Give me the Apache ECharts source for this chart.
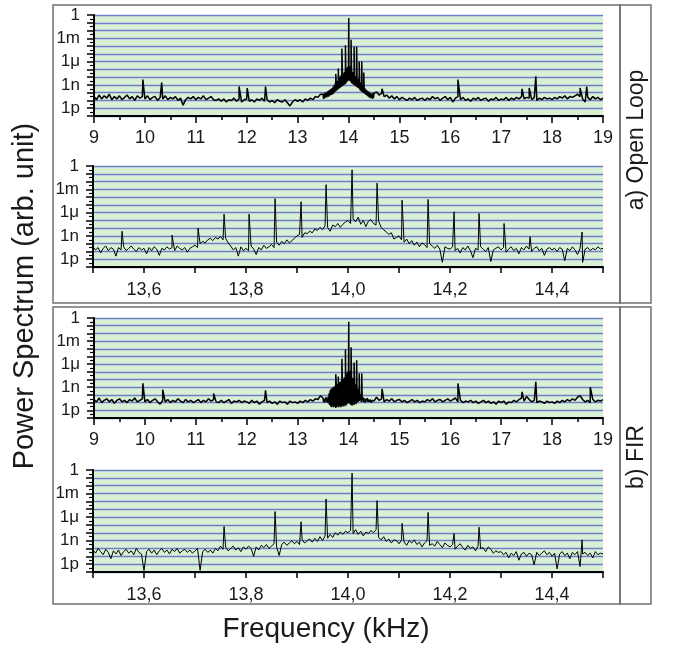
<!DOCTYPE html>
<html>
<head>
<meta charset="utf-8">
<script src="https://cdn.jsdelivr.net/npm/echarts@6/dist/echarts.min.js"></script>
<style>
  html, body { margin: 0; padding: 0; background: #fff; }
  #main { width: 673px; height: 646px; }
</style>
</head>
<body>
<div id="main"></div>
<script>
// power spectra, values are log10 of power (decades)

// a) open loop, wide span 9..19 kHz (step 0.05 outside the core, 0.01 in the core)
var openWideLow = [ // 9.00 .. 13.45
    -10.5, -10.9, -10.3, -10.8, -10.4, -10.7, -10.2, -10.9, -10.5, -10.8,
    -10.4, -10.9, -10.6, -10.3, -10.8, -10.5, -11.0, -10.4, -10.7, -10.5,
    -10.8, -10.4, -10.9, -10.6, -10.5, -11.0, -10.6, -10.8, -10.4, -10.9,
    -10.6, -10.8, -10.5, -11.0, -10.7, -11.6, -10.9, -10.6, -10.8, -10.5,
    -10.9, -10.6, -10.8, -10.4, -10.9, -10.7, -10.5, -10.9, -11.0, -10.8,
    -11.1, -10.8, -11.2, -10.9, -11.0, -10.7, -11.1, -10.8, -11.2, -10.9,
    -10.8, -11.1, -10.9, -11.2, -10.8, -11.0, -10.7, -11.1, -10.9, -11.2,
    -11.0, -11.3, -10.9, -11.1, -11.2, -10.9, -11.3, -11.7, -11.2, -10.9,
    -11.1, -10.9, -11.2, -10.8, -11.0, -10.7, -10.9, -10.5, -10.6, -10.2
];
var openCore = [ // 13.50 .. 14.50
    -10.2, -10.8, -10.1, -10.7, -10.0, -10.6, -10.0, -10.6, -9.9, -10.5,
    -9.8, -10.5, -9.7, -10.4, -9.6, -10.3, -9.5, -10.3, -9.4, -10.2,
    -9.2, -10.1, -9.0, -9.9, -8.8, -9.8, -8.7, -9.7, -8.5, -9.6,
    -8.3, -9.5, -8.1, -9.4, -7.9, -9.3, -7.7, -9.2, -7.6, -9.1,
    -7.5, -9.0, -7.3, -8.9, -7.1, -8.8, -6.9, -8.6, -6.7, -8.5,
    -6.4, -8.4, -6.6, -8.5, -6.9, -8.7, -7.1, -8.8, -7.3, -8.9,
    -7.5, -9.0, -7.7, -9.1, -7.9, -9.2, -8.0, -9.3, -8.2, -9.4,
    -8.3, -9.5, -8.5, -9.7, -8.7, -9.8, -8.9, -9.9, -9.1, -10.0,
    -9.3, -10.1, -9.4, -10.2, -9.6, -10.3, -9.7, -10.4, -9.8, -10.5,
    -9.9, -10.6, -10.0, -10.7, -10.1, -10.6, -10.2, -10.8, -10.0, -10.7,
    -10.1
];
var openWideHigh = [ // 14.55 .. 19.00
    -9.9, -10.3, -10.1, -10.5, -10.3, -10.7, -10.4, -10.8, -10.5,
    -10.9, -10.6, -10.8, -11.0, -10.7, -10.9, -10.6, -11.0, -10.8, -10.7,
    -11.0, -10.7, -10.9, -10.5, -10.8, -10.6, -11.0, -10.7, -10.5, -10.9,
    -10.6, -11.2, -10.7, -10.5, -10.9, -10.6, -11.0, -10.8, -11.1, -10.7,
    -10.9, -10.6, -11.0, -10.8, -10.7, -11.1, -10.8, -10.9, -10.6, -11.0,
    -10.8, -10.9, -10.6, -11.0, -10.7, -10.9, -10.6, -10.8, -10.5, -10.8,
    -10.6, -10.7, -10.9, -10.6, -11.0, -10.7, -10.9, -10.6, -10.8, -10.7,
    -10.9, -10.6, -10.8, -10.5, -10.7, -10.4, -10.8, -10.5, -10.6, -10.4,
    -10.2, -10.5, -10.8, -11.2, -10.6, -10.9, -10.5, -10.8, -10.6, -10.9, -10.7
];
var openWidePeaks = [
    [9.96, -8.3], [10.33, -8.7], [11.85, -9.2], [12.01, -9.4], [12.37, -9.2],
    [13.75, -7.6], [13.80, -6.9], [13.87, -4.3], [13.94, -3.9], [14.005, -0.4],
    [14.05, -3.2], [14.11, -4.1], [14.16, -4.1], [14.21, -6.0], [14.26, -6.0],
    [14.30, -7.4], [14.66, -9.5], [16.15, -8.3], [17.41, -9.5], [17.55, -9.4],
    [17.68, -7.9], [18.55, -9.4], [18.68, -9.2]
];

// a) open loop, zoom 13.5..14.5 kHz, step 0.005
var openZoom = [
    -10.4, -10.8, -10.5, -11.2, -10.6, -10.3, -10.9, -10.5, -10.7, -11.6, -10.5, -10.8, -10.4, -10.9, -10.6, -10.3, -10.7, -11.0, -10.5, -10.8,
    -10.6, -11.3, -10.5, -10.9, -10.4, -10.7, -11.5, -10.6, -10.8, -10.4, -10.7, -10.5, -10.9, -10.3, -10.6, -10.8, -10.5, -11.1, -10.6, -10.4,
    -10.2, -10.5, -10.0, -9.7, -9.9, -9.5, -9.3, -9.6, -9.2, -9.4, -9.1, -9.5, -9.3, -9.9, -10.3, -10.8, -10.5, -11.6, -10.4, -10.9,
    -10.6, -10.9, -10.3, -10.7, -11.4, -10.5, -10.8, -10.2, -10.6, -10.4, -10.1, -10.5, -9.8, -10.2, -9.7, -10.0, -9.5, -9.9, -9.6, -9.3,
    -9.0, -8.8, -9.2, -8.6, -8.7, -8.4, -8.6, -8.1, -8.3, -7.9, -8.2, -7.7, -7.9, -8.4, -7.6, -7.8, -7.4, -7.9, -7.5, -7.2,
    -7.0, -7.4, -6.8, -7.2, -6.6, -7.5, -7.0, -7.8, -7.1, -6.9, -7.4, -7.6, -7.1, -7.9, -8.2, -8.5, -8.8, -8.6, -9.4, -9.2,
    -9.0, -9.5, -9.8, -9.4, -10.0, -9.6, -10.2, -9.8, -10.4, -9.9, -10.1, -10.5, -10.0, -10.3, -10.6, -10.2, -10.7, -12.4, -10.4, -10.6,
    -10.7, -10.4, -10.9, -10.6, -11.2, -10.5, -10.8, -10.3, -10.9, -11.8, -10.6, -10.8, -10.4, -10.7, -11.0, -10.5, -12.3, -10.8, -10.6, -10.4,
    -10.8, -10.5, -11.1, -10.7, -10.4, -10.9, -10.6, -11.3, -10.5, -10.8, -10.3, -10.7, -11.0, -10.6, -10.4, -10.9, -10.6, -11.5, -10.7, -10.5,
    -10.8, -10.6, -11.0, -10.5, -10.7, -12.2, -10.6, -10.9, -10.4, -10.8, -11.4, -10.6, -12.4, -10.7, -10.5, -10.9, -10.6, -10.8, -10.4, -10.7,
    -10.6
];
var openZoomPeaks = [
    [13.557, -8.4], [13.655, -8.9], [13.706, -8.0], [13.757, -6.2], [13.806, -6.2],
    [13.857, -4.2], [13.908, -4.6], [13.957, -2.4], [14.008, -0.5], [14.057, -2.2],
    [14.106, -4.4], [14.157, -4.3], [14.208, -5.9], [14.257, -6.1], [14.306, -7.4],
    [14.357, -9.1], [14.459, -8.5]
];

// b) FIR, wide span
var firWideLow = [ // 9.00 .. 13.45
    -10.6, -10.9, -10.4, -11.0, -10.7, -10.5, -10.9, -10.6, -11.1, -10.7,
    -10.5, -10.9, -10.7, -11.0, -10.6, -10.8, -10.4, -10.9, -10.7, -10.5,
    -10.9, -10.6, -11.0, -10.7, -10.5, -10.9, -11.2, -10.7, -10.9, -10.6,
    -11.0, -10.7, -10.9, -10.5, -10.8, -11.0, -10.6, -10.9, -10.7, -11.0,
    -10.8, -10.6, -11.0, -10.7, -10.9, -10.5, -10.8, -10.6, -10.9, -11.0,
    -10.7, -11.0, -10.8, -10.6, -11.1, -10.8, -10.9, -10.7, -11.0, -10.8,
    -10.9, -11.1, -10.7, -11.0, -10.8, -11.2, -10.9, -10.7, -11.0, -10.8,
    -11.1, -10.9, -11.2, -10.8, -11.0, -10.9, -11.2, -10.8, -11.0, -10.9,
    -11.1, -10.8, -11.0, -10.7, -10.9, -10.6, -10.8, -10.5, -10.6, -10.1
];
var firCore = [ // 13.50 .. 14.50
    -10.4, -10.9, -10.5, -11.0, -10.6, -10.8, -10.3, -10.9, -10.5, -11.0,
    -10.2, -11.1, -9.8, -11.3, -9.4, -11.5, -9.2, -11.6, -9.1, -11.5,
    -9.0, -11.6, -8.9, -11.5, -8.8, -11.7, -8.7, -11.6, -8.6, -11.5,
    -8.5, -11.6, -8.4, -11.4, -8.3, -11.6, -8.2, -11.5, -8.0, -11.4,
    -7.9, -11.5, -7.7, -11.3, -7.5, -11.4, -7.3, -11.2, -7.0, -11.1,
    -6.7, -11.0, -6.9, -11.2, -7.2, -11.3, -7.5, -11.4, -7.8, -11.2,
    -8.0, -11.3, -8.3, -11.1, -8.6, -11.2, -8.9, -11.0, -9.2, -10.9,
    -9.4, -10.8, -9.7, -10.7, -9.9, -10.9, -10.1, -10.6, -10.3, -10.9,
    -10.4, -10.7, -10.6, -11.0, -10.5, -10.8, -10.7, -10.4, -10.9, -10.6,
    -10.5, -10.9, -10.6, -10.8, -10.4, -11.0, -10.7, -10.5, -10.9, -10.6,
    -10.8
];
var firWideHigh = [ // 14.55 .. 19.00
    -10.3, -10.7, -10.5, -10.9, -10.6, -10.8, -10.5, -10.9, -10.7,
    -10.6, -10.9, -10.7, -11.0, -10.8, -10.6, -10.9, -10.7, -11.0, -10.8,
    -10.9, -10.6, -10.8, -10.5, -10.9, -10.7, -10.6, -10.9, -10.7, -10.5,
    -10.8, -10.6, -10.4, -10.9, -10.7, -11.0, -10.8, -10.9, -10.7, -11.0,
    -10.8, -11.1, -10.9, -10.7, -11.0, -10.8, -11.1, -10.9, -11.2, -10.8,
    -11.0, -10.8, -11.2, -10.9, -11.0, -10.7, -10.9, -10.6, -10.4, -10.8,
    -10.2, -10.6, -10.9, -10.7, -11.0, -10.8, -10.9, -11.1, -10.8, -11.0,
    -10.9, -11.1, -10.8, -11.0, -10.7, -10.9, -10.6, -10.8, -10.5, -10.7,
    -10.3, -10.1, -10.6, -10.9, -10.7, -11.0, -10.6, -10.9, -10.7, -10.8, -10.6
];
var firWidePeaks = [
    [9.96, -8.5], [10.35, -9.3], [11.35, -9.8], [12.37, -9.4],
    [13.75, -7.3], [13.80, -7.6], [13.87, -5.3], [13.94, -4.1], [14.005, -0.5],
    [14.05, -3.8], [14.11, -5.8], [14.16, -5.5], [14.21, -7.2], [14.26, -7.2],
    [14.66, -9.2], [16.15, -8.5], [17.41, -9.6], [17.68, -8.3], [18.75, -9.0]
];

// b) FIR, zoom
var firZoom = [
    -10.2, -10.6, -10.0, -10.4, -10.8, -10.1, -10.5, -11.3, -10.3, -10.7, -10.2, -10.9, -10.4, -10.1, -10.6, -10.3, -10.8, -10.0, -10.5, -10.7,
    -12.8, -10.4, -10.1, -10.6, -10.2, -10.8, -10.3, -10.0, -10.5, -10.2, -10.7, -10.1, -10.4, -10.0, -10.6, -10.3, -10.1, -10.5, -10.2, -10.6,
    -10.3, -10.0, -12.8, -10.4, -10.1, -10.5, -10.2, -10.6, -10.0, -10.3, -9.7, -10.1, -9.8, -10.3, -10.0, -9.7, -10.2, -9.9, -10.4, -9.8,
    -10.1, -9.7, -10.0, -11.0, -9.8, -10.2, -9.6, -9.9, -9.5, -10.0, -9.7, -9.4, -9.8, -10.9, -9.5, -9.2, -9.6, -9.3, -9.0, -9.4,
    -9.1, -9.5, -8.9, -9.3, -9.0, -8.8, -9.2, -8.7, -9.1, -8.5, -9.0, -8.4, -8.7, -8.2, -8.6, -8.0, -8.3, -7.9, -8.2, -7.8,
    -8.0, -7.7, -8.1, -7.6, -8.2, -7.8, -8.4, -7.9, -8.1, -7.7, -8.0, -7.6, -8.6, -8.9, -8.5, -9.1, -8.8, -9.3, -8.9, -9.0,
    -9.4, -8.9, -9.2, -9.6, -9.0, -9.3, -8.9, -9.5, -9.2, -9.8, -9.3, -9.0, -9.6, -9.4, -9.7, -9.1, -9.5, -9.9, -9.3, -9.6,
    -9.8, -9.5, -10.1, -9.7, -9.4, -9.9, -10.2, -9.6, -10.0, -9.8, -10.3, -9.7, -10.0, -9.9, -10.4, -9.8, -10.1, -10.6, -10.3, -10.5,
    -10.4, -10.8, -10.5, -11.2, -10.6, -10.9, -10.4, -11.5, -10.7, -10.5, -11.0, -10.6, -10.8, -12.1, -10.5, -10.9, -10.6, -10.3, -10.8, -10.5,
    -11.0, -10.6, -12.6, -10.7, -10.4, -10.9, -10.6, -11.3, -10.5, -10.8, -10.4, -12.3, -10.7, -10.5, -10.9, -10.6, -11.2, -10.4, -10.8, -10.6,
    -10.7
];
var firZoomPeaks = [
    [13.757, -7.2], [13.857, -5.3], [13.908, -6.6], [13.957, -3.7], [14.008, -0.4],
    [14.057, -3.9], [14.106, -6.8], [14.157, -5.4], [14.208, -8.1], [14.257, -7.3],
    [14.459, -8.9]
];

var decadeLabels = { '0': '1', '-3': '1m', '-6': '1\u03bc', '-9': '1n', '-12': '1p' };

var FONT = '"Liberation Sans", Arial, Helvetica, sans-serif';

function seq(start, step, values) {
    return values.map(function (v, i) {
        return [+(start + i * step).toFixed(4), v];
    });
}

function merge() {
    var all = [];
    for (var i = 0; i < arguments.length; i++) all = all.concat(arguments[i]);
    return all.sort(function (a, b) { return a[0] - b[0]; });
}

var openWide = merge(seq(9, 0.05, openWideLow), seq(13.5, 0.01, openCore), seq(14.55, 0.05, openWideHigh), openWidePeaks);
var openNarrow = merge(seq(13.5, 0.005, openZoom), openZoomPeaks);
var firWide = merge(seq(9, 0.05, firWideLow), seq(13.5, 0.01, firCore), seq(14.55, 0.05, firWideHigh), firWidePeaks);
var firNarrow = merge(seq(13.5, 0.005, firZoom), firZoomPeaks);

var grids = [
    { left: 94, top: 15, width: 509, height: 101 },
    { left: 93, top: 166, width: 510, height: 101 },
    { left: 94, top: 318, width: 509, height: 100 },
    { left: 93, top: 470, width: 510, height: 102 }
];
grids.forEach(function (g) {
    g.show = true;
    g.backgroundColor = '#d9f0d4';
    g.borderWidth = 0;
});

function xWide(idx) {
    return {
        type: 'value', gridIndex: idx, min: 9, max: 19, interval: 1,
        axisLine: { onZero: false, lineStyle: { color: '#000', width: 2 } },
        axisTick: { length: 7, lineStyle: { color: '#000', width: 1.5 } },
        minorTick: { show: true, splitNumber: 2, length: 4, lineStyle: { color: '#000', width: 1.5 } },
        splitLine: { show: false },
        axisLabel: { fontSize: 18, color: '#1a1a1a', fontFamily: FONT, margin: 13 }
    };
}

function xNarrow(idx) {
    return {
        type: 'value', gridIndex: idx, min: 13.5, max: 14.5, interval: 0.1,
        axisLine: { onZero: false, lineStyle: { color: '#000', width: 2 } },
        axisTick: { length: 6, lineStyle: { color: '#000', width: 1.5 } },
        splitLine: { show: false },
        axisLabel: {
            fontSize: 18, color: '#1a1a1a', fontFamily: FONT, margin: 14,
            formatter: function (v) {
                var t = Math.round(v * 10);
                if (t % 2 !== 0) return '';
                return (t / 10).toFixed(1).replace('.', ',');
            }
        }
    };
}

function yAxis(idx) {
    return {
        type: 'value', gridIndex: idx, min: -13, max: 0, interval: 1,
        axisLine: { show: true, lineStyle: { color: '#000', width: 2 } },
        axisTick: { show: true, length: 7, lineStyle: { color: '#000', width: 1.5 } },
        minorTick: { show: true, splitNumber: 2, length: 4, lineStyle: { color: '#000', width: 1.2 } },
        splitLine: { show: true, lineStyle: { color: '#6f7ecb', width: 1.4 } },
        axisLabel: {
            fontSize: 17, color: '#1a1a1a', fontFamily: FONT, margin: 14,
            formatter: function (v) {
                var k = String(Math.round(v));
                return decadeLabels[k] || '';
            }
        }
    };
}

function trace(idx, data, width) {
    return {
        type: 'line', xAxisIndex: idx, yAxisIndex: idx, data: data,
        showSymbol: false, symbol: 'none', animation: false, silent: true,
        lineStyle: { color: '#000', width: width }
    };
}

var frame = { stroke: '#707070', fill: 'none', lineWidth: 1.5 };

var option = {
    backgroundColor: '#fff',
    animation: false,
    grid: grids,
    xAxis: [xWide(0), xNarrow(1), xWide(2), xNarrow(3)],
    yAxis: [yAxis(0), yAxis(1), yAxis(2), yAxis(3)],
    series: [trace(0, openWide, 1.5), trace(1, openNarrow, 1), trace(2, firWide, 1.5), trace(3, firNarrow, 1)],
    graphic: [
        { type: 'rect', shape: { x: 53, y: 5, width: 567, height: 298 }, style: frame, silent: true },
        { type: 'rect', shape: { x: 620, y: 5, width: 31, height: 298 }, style: frame, silent: true },
        { type: 'rect', shape: { x: 53, y: 307, width: 567, height: 297 }, style: frame, silent: true },
        { type: 'rect', shape: { x: 620, y: 307, width: 31, height: 297 }, style: frame, silent: true },
        {
            type: 'text', x: 637, y: 140, rotation: Math.PI / 2,
            style: { text: 'a) Open Loop', fontSize: 23, fontFamily: FONT, fill: '#1a1a1a', align: 'center', verticalAlign: 'middle' }
        },
        {
            type: 'text', x: 637, y: 457, rotation: Math.PI / 2,
            style: { text: 'b) FIR', fontSize: 23, fontFamily: FONT, fill: '#1a1a1a', align: 'center', verticalAlign: 'middle' }
        },
        {
            type: 'text', x: 25, y: 296, rotation: Math.PI / 2,
            style: { text: 'Power Spectrum (arb. unit)', fontSize: 29, fontFamily: FONT, fill: '#1a1a1a', align: 'center', verticalAlign: 'middle' }
        },
        {
            type: 'text', x: 326, y: 629,
            style: { text: 'Frequency (kHz)', fontSize: 28, fontFamily: FONT, fill: '#1a1a1a', align: 'center', verticalAlign: 'middle' }
        }
    ]
};

var myChart = echarts.init(document.getElementById('main'));
myChart.setOption(option);
</script>
</body>
</html>
